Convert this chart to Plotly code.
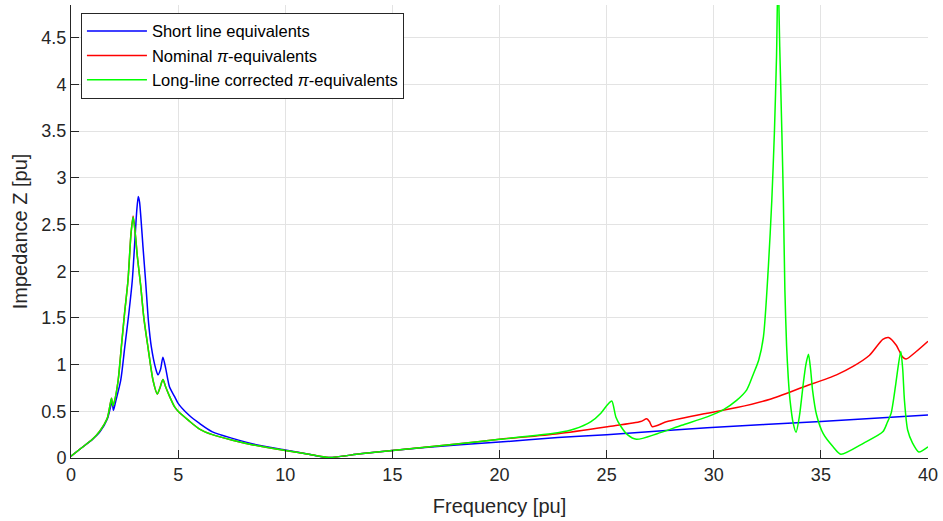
import plotly.graph_objects as go

# ---- data ----
f_short = [0, 0.5, 1.0, 1.35, 1.7, 1.85, 1.92, 1.98, 2.08, 2.32, 2.51, 2.7, 2.86, 3.0, 3.07,
           3.14, 3.2, 3.27, 3.36, 3.48, 3.62, 3.75, 3.95, 4.06, 4.18, 4.29, 4.42, 4.6, 4.83,
           5.0, 5.5, 6.0, 6.6, 7.54, 8.5, 10.0, 11.1, 12.03, 13.5, 15.0, 18.0, 20.0, 22.72,
           25.0, 29.69, 35.0, 40.0]
z_short = [0.02, 0.11, 0.2, 0.28, 0.42, 0.55, 0.6, 0.51, 0.6, 0.83, 1.19, 1.55, 1.9, 2.4, 2.65,
           2.8, 2.74, 2.55, 2.26, 1.9, 1.45, 1.19, 0.96, 0.89, 0.95, 1.08, 0.96, 0.76, 0.66,
           0.585, 0.46, 0.37, 0.28, 0.21, 0.15, 0.086, 0.04, 0.005, 0.045, 0.08, 0.14, 0.17, 0.22,
           0.25, 0.325, 0.39, 0.46]

f_nominal = [0, 0.5, 1.0, 1.35, 1.7, 1.89, 1.95, 2.02, 2.2, 2.35, 2.5, 2.66, 2.8, 2.9, 3.0,
             3.1, 3.25, 3.4, 3.59, 3.83, 4.03, 4.15, 4.29, 4.42, 4.6, 4.83, 5.0, 5.5, 6.0, 6.6,
             7.54, 8.5, 10.0, 11.1, 12.03, 13.5, 15.0, 18.0, 20.0, 22.72, 25.04, 26.59, 26.87,
             27.0, 27.13, 27.83, 29.69, 31.08, 32.63, 34.18, 35.73, 36.5, 37.27, 37.89, 38.16,
             38.51, 38.82, 38.98, 39.45, 40.0]
z_nominal = [0.02, 0.11, 0.2, 0.29, 0.43, 0.64, 0.56, 0.6, 0.83, 1.19, 1.55, 1.9, 2.4, 2.59, 2.4,
             2.15, 1.85, 1.5, 1.19, 0.83, 0.685, 0.75, 0.84, 0.76, 0.66, 0.55, 0.5, 0.4, 0.31, 0.25,
             0.19, 0.14, 0.08, 0.04, 0.005, 0.045, 0.08, 0.15, 0.2, 0.26, 0.335, 0.39, 0.42,
             0.39, 0.335, 0.39, 0.48, 0.54, 0.63, 0.76, 0.89, 0.98, 1.10, 1.27, 1.29,
             1.21, 1.08, 1.06, 1.14, 1.25]

f_long = [0, 0.5, 1.0, 1.35, 1.7, 1.89, 1.95, 2.02, 2.2, 2.35, 2.5, 2.66, 2.8, 2.9, 3.0, 3.1,
          3.25, 3.4, 3.59, 3.83, 4.03, 4.15, 4.29, 4.42, 4.6, 4.83, 5.0, 5.5, 6.0, 6.6, 7.54,
          8.5, 10.0, 11.1, 12.03, 13.5, 15.0, 18.0, 20.0, 22.72, 23.49, 24.27, 24.73, 25.04,
          25.24, 25.43, 25.66, 25.97, 26.39, 27.36, 28.5, 29.69, 30.4, 31.08, 31.54, 31.85,
          32.1, 32.32, 32.55, 32.71, 32.83, 32.93, 33.0, 33.08, 33.18, 33.25, 33.32, 33.4,
          33.48, 33.56, 33.71, 33.84, 34.0, 34.18, 34.3, 34.42, 34.52, 34.61, 34.8, 35.11,
          35.57, 35.93, 37.0, 37.89, 38.1, 38.28, 38.5, 38.62, 38.73, 38.82, 38.9, 39.05,
          39.28, 39.57, 40.0]
z_long = [0.02, 0.11, 0.2, 0.29, 0.43, 0.64, 0.56, 0.6, 0.83, 1.19, 1.55, 1.9, 2.4, 2.58, 2.4, 2.15,
          1.85, 1.5, 1.19, 0.83, 0.685, 0.75, 0.84, 0.76, 0.66, 0.55, 0.5, 0.4, 0.31, 0.25, 0.19,
          0.14, 0.08, 0.04, 0.005, 0.045, 0.08, 0.15, 0.2, 0.27, 0.31, 0.39, 0.48, 0.57,
          0.61, 0.44, 0.34, 0.25, 0.2, 0.26, 0.35, 0.44, 0.51, 0.62, 0.73, 0.9,
          1.05, 1.3, 2.05, 2.76, 3.48, 4.3, 5.2, 4.4, 3.48, 2.76, 1.8, 1.2,
          0.85, 0.62, 0.37, 0.275, 0.45, 0.8, 1.0, 1.11, 0.95, 0.73, 0.46, 0.26,
          0.12, 0.04, 0.16, 0.28, 0.38, 0.48, 0.8, 1.0, 1.14, 0.95, 0.62, 0.3,
          0.16, 0.065, 0.12]

names = ["Short line equivalents", "Nominal <i>π</i>-equivalents",
         "Long-line corrected <i>π</i>-equivalents"]
colors = ["#0000ff", "#ff0000", "#00ff00"]

x_ticks = [0, 5, 10, 15, 20, 25, 30, 35, 40]
y_ticks = [0, 0.5, 1, 1.5, 2, 2.5, 3, 3.5, 4, 4.5]
y_labels = ["0", "0.5", "1", "1.5", "2", "2.5", "3", "3.5", "4", "4.5"]

fig = go.Figure()
for fx, zy, nm, col in [(f_short, z_short, names[0], colors[0]),
                        (f_nominal, z_nominal, names[1], colors[1]),
                        (f_long, z_long, names[2], colors[2])]:
    fig.add_trace(go.Scatter(x=fx, y=zy, mode="lines", name=nm,
                             line=dict(color=col, width=1.5, shape="spline", smoothing=0.7)))

axis_col = "#262626"
grid_col = "#e3e3e3"
fig.update_layout(
    width=943, height=521,
    margin=dict(l=71, r=11, t=5, b=63),
    paper_bgcolor="white", plot_bgcolor="white",
    font=dict(family="Liberation Sans, Arial, sans-serif", color=axis_col),
    showlegend=True,
    legend=dict(x=0.0116, y=0.983, xanchor="left", yanchor="top",
                bgcolor="white", bordercolor=axis_col, borderwidth=1,
                font=dict(size=16.5, color="black"), itemwidth=60, tracegroupgap=0),
    xaxis=dict(range=[0, 40], tickvals=x_ticks, ticks="inside", ticklen=8,
               tickcolor=axis_col, showline=True, linecolor=axis_col, linewidth=1,
               mirror=False, showgrid=True, gridcolor=grid_col, gridwidth=1,
               zeroline=False, tickfont=dict(size=18, color=axis_col),
               title=dict(text="Frequency [pu]", font=dict(size=20, color=axis_col), standoff=15)),
    yaxis=dict(range=[0, 4.85], tickvals=y_ticks, ticktext=y_labels, ticks="inside", ticklen=8,
               tickcolor=axis_col, showline=True, linecolor=axis_col, linewidth=1,
               mirror=False, showgrid=True, gridcolor=grid_col, gridwidth=1,
               zeroline=False, tickfont=dict(size=18, color=axis_col),
               title=dict(text="Impedance Z [pu]", font=dict(size=20, color=axis_col), standoff=8)),
)

fig.write_html("out.html")
